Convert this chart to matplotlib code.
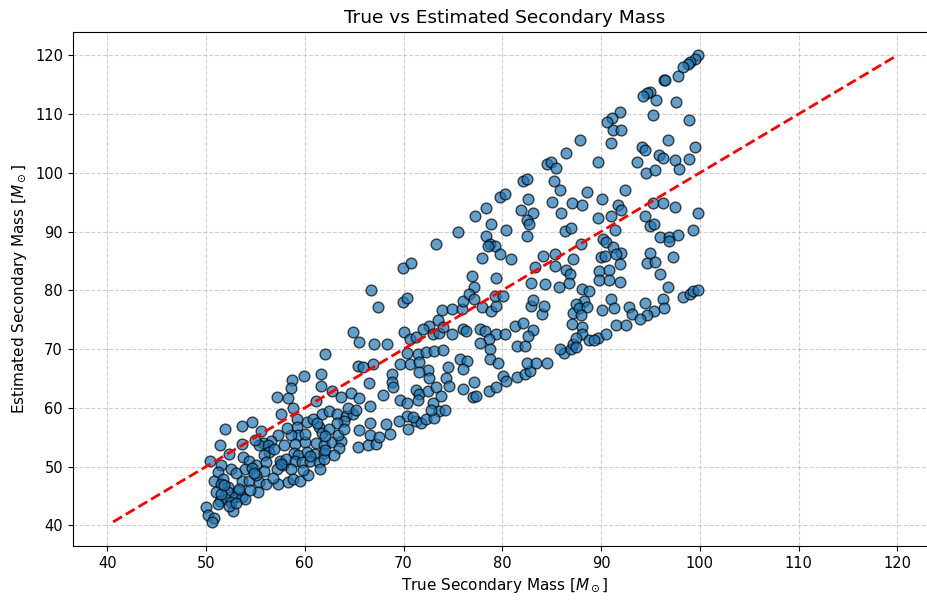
import numpy as np
import matplotlib
matplotlib.use("Agg")
import matplotlib.pyplot as plt

# Secondary masses (solar masses), grouped by true-mass band
true_low = [59.9, 61.6, 58.7, 58.6, 61.6, 57.2, 58.3, 61.1, 58.8, 57.6, 61.7, 51.9, 53.6, 54.7, 55.6,
            59.2, 59.2, 60.2, 60.8, 61.4, 61.7, 59.3, 58.6, 57.3, 56.6, 55.8, 55.4, 56.3, 51.4, 53.6,
            57.9, 59.0, 60.0, 61.1, 61.9, 52.3, 56.4, 58.9, 59.3, 60.2, 61.0, 61.9, 50.4, 51.5, 53.7,
            54.4, 55.1, 55.9, 56.1, 57.5, 57.8, 58.1, 59.0, 59.7, 60.5, 61.4, 61.9, 52.5, 53.9, 54.7,
            55.9, 57.2, 58.6, 61.5, 51.2, 50.8, 51.7, 53.6, 54.4, 55.4, 56.1, 57.3, 58.3, 58.8, 59.5,
            60.3, 52.2, 51.5, 55.1, 51.0, 52.2, 53.2, 55.3, 51.4, 52.0, 52.9, 53.6, 53.9, 51.2, 52.5,
            50.0, 52.7, 50.2, 50.8, 50.6,
            51.5, 52.3, 53.0, 51.8, 53.3, 54.5, 53.0, 54.9, 56.8, 57.6, 59.8, 60.5, 56.9, 55.0, 58.2,
            60.0, 61.2]
est_low = [65.5, 65.8, 64.8, 63.3, 63.8, 61.8, 61.6, 61.1, 60.0, 58.9, 59.0, 56.4, 56.9, 57.6, 56.0,
           58.1, 56.7, 57.6, 58.1, 56.7, 55.8, 55.3, 55.4, 55.3, 54.4, 54.1, 53.6, 53.7, 53.6, 53.9,
           53.6, 53.9, 54.2, 54.1, 53.6, 52.2, 52.5, 52.3, 51.9, 52.5, 52.2, 52.4, 50.9, 50.2, 51.6,
           50.9, 50.2, 51.9, 50.8, 51.0, 50.2, 51.3, 50.9, 50.8, 50.9, 50.8, 51.3, 49.6, 49.6, 49.7,
           49.3, 49.6, 49.6, 49.6, 49.1, 47.6, 47.9, 47.6, 47.5, 47.4, 47.1, 47.1, 47.4, 47.9, 47.6,
           48.5, 46.5, 47.1, 48.5, 45.7, 45.7, 45.8, 45.7, 44.2, 44.5, 44.8, 44.8, 44.5, 43.7, 44.0,
           43.1, 42.5, 41.7, 41.2, 40.6,
           45.3, 43.3, 43.8, 46.9, 46.2, 46.0, 49.0, 49.0, 48.0, 50.5, 49.5, 51.8, 53.0, 54.6, 56.5,
           55.6, 57.4]

true_mid = [73.3, 69.9, 70.8, 66.7, 69.9, 70.3, 67.4, 64.9, 65.5, 67.0, 68.3, 62.0, 70.0, 73.9, 73.5,
            72.6, 72.0, 73.0, 73.6, 74.0, 70.6, 71.3, 70.3, 71.5, 72.3, 73.1, 74.0,
            65.4, 65.9, 66.9, 69.6, 70.6, 71.6, 72.5, 74.5, 68.8, 68.8, 68.9, 66.5, 62.8, 63.7, 64.7,
            65.5, 66.6, 67.9, 69.6, 70.3, 71.3, 71.6, 71.5, 72.5, 73.3, 74.3, 72.6, 71.6, 73.0, 73.6,
            74.2, 70.3, 71.3, 71.8, 72.3, 73.1, 62.5, 63.3, 64.2, 64.9, 64.0, 63.3, 62.5, 64.4, 65.2,
            66.6, 68.2, 68.6, 66.6, 70.4, 62.8, 63.7, 63.5, 62.0, 63.0, 65.4, 66.4, 67.2,
            62.0, 63.4, 64.0, 65.5, 67.5, 69.5, 71.0, 72.8, 73.8, 74.6]
est_mid = [87.9, 83.8, 84.6, 80.1, 78.0, 78.7, 77.2, 72.9, 71.2, 70.9, 70.8, 69.2, 72.9, 76.7, 75.0,
           74.0, 73.4, 72.6, 72.8, 73.7, 71.7, 72.0, 69.4, 69.2, 69.5, 69.6, 69.9,
           67.2, 66.9, 67.5, 67.5, 67.5, 67.8, 66.4, 66.9, 65.8, 64.4, 63.6, 64.3, 62.9, 61.9, 62.5,
           61.7, 60.3, 62.2, 61.4, 60.8, 63.1, 62.3, 61.4, 62.9, 63.6, 65.0, 65.0, 66.1, 60.8, 59.4,
           59.6, 58.6, 57.8, 57.5, 58.1, 58.3, 59.4, 58.9, 58.6, 58.9, 57.8, 57.5, 56.4, 60.0, 59.7,
           57.5, 57.2, 55.6, 55.3, 56.4, 54.2, 54.4, 53.1, 52.8, 51.9, 53.3, 53.6, 53.9,
           55.2, 55.3, 56.4, 56.2, 55.0, 57.8, 58.5, 59.7, 62.1, 63.8]

true_upper = [86.4, 84.5, 84.9, 85.4, 82.1, 82.5, 85.2, 85.8, 79.8, 80.3, 82.6, 85.0, 87.0, 78.3, 77.2,
              81.9, 83.1, 85.9, 78.9, 82.5, 82.7, 75.5, 80.4, 86.3, 86.9, 78.3, 82.5, 78.7, 79.3, 78.5,
              79.8, 77.9, 80.9, 84.1, 85.3, 85.3, 87.2, 76.9, 79.4, 83.3, 86.4, 86.8,
              77.1, 82.9, 84.3, 85.7, 86.7, 74.9, 75.9, 76.0, 76.6, 77.1, 77.9, 78.9, 79.4, 79.3, 80.1,
              74.9, 76.0, 76.3, 77.7, 78.2, 79.4, 80.3, 78.6, 77.7, 78.7, 81.5, 82.3, 81.3, 82.1, 83.1,
              82.9, 84.0, 84.2, 83.1, 75.7, 76.4, 76.0, 78.7, 79.6, 77.1, 76.0, 77.0, 77.3, 78.6, 79.4,
              80.1, 80.4, 81.5, 82.3, 82.8, 82.5, 83.4, 84.5, 87.2, 87.0, 86.2, 86.9, 87.2, 85.8, 82.6]
est_upper = [103.4, 101.5, 101.9, 100.8, 98.6, 98.9, 98.6, 97.1, 95.9, 96.4, 95.5, 95.1, 94.9, 94.0, 92.7,
             93.7, 93.2, 93.2, 91.3, 91.9, 91.3, 89.9, 90.2, 90.1, 90.6, 89.3, 89.3, 87.9, 87.5, 87.5,
             86.2, 85.5, 85.4, 85.9, 86.1, 84.2, 85.4, 82.4, 82.1, 84.0, 83.4, 82.8,
             80.5, 81.3, 81.1, 80.5, 81.3, 76.8, 76.8, 78.2, 79.3, 78.5, 77.1, 76.5, 77.3, 79.0, 79.0,
             72.5, 73.4, 73.1, 73.4, 73.1, 72.5, 72.5, 71.7, 71.1, 70.0, 70.6, 70.6, 74.0, 74.5, 73.2,
             77.3, 75.9, 77.3, 78.3, 68.3, 68.0, 66.6, 68.3, 67.7, 64.4, 63.2, 61.8, 62.1, 62.9, 63.5,
             65.5, 64.6, 65.2, 65.8, 66.3, 67.7, 67.7, 67.7, 76.2, 74.2, 69.4, 70.0, 70.8, 70.0, 72.3]

true_high = [99.8, 99.5, 99.0, 98.8, 98.3, 97.8, 96.4, 96.5, 94.9, 94.6, 94.2, 95.6, 97.6, 91.9, 91.1,
             90.6, 91.2, 92.0, 95.3, 98.9, 87.9, 91.0, 94.1, 94.4, 96.8, 99.5, 95.9, 96.3, 97.5, 98.9,
             89.7, 93.6, 94.5, 95.5, 97.9, 88.6, 92.4, 90.1,
             88.1, 91.7, 92.0, 95.3, 96.3, 97.5, 99.8, 89.7, 91.0, 94.4, 94.9, 95.4, 91.4, 96.0, 96.9,
             97.8, 96.9, 99.3, 94.9, 94.6, 95.5, 97.3, 90.2, 90.5, 91.2, 92.0, 91.5, 90.0, 90.4, 91.9,
             88.0, 89.8, 90.8, 89.8, 90.8, 91.9, 96.0, 96.8, 88.1, 88.8, 88.3, 87.5, 87.8, 88.6, 90.1,
             91.0, 91.3, 92.8, 93.1, 94.4, 95.4, 96.3, 96.4, 94.6, 93.9, 91.5, 92.5, 98.3, 99.0, 99.3,
             99.8, 88.0, 88.1, 88.1, 87.5, 88.8, 89.7, 90.5, 89.3, 87.5]
est_high = [120.0, 119.4, 118.8, 118.5, 118.0, 116.4, 115.7, 115.8, 113.8, 113.5, 113.0, 112.3, 112.0, 110.3, 109.3,
            108.7, 107.3, 107.3, 109.9, 108.9, 105.5, 105.1, 104.3, 103.8, 105.5, 104.4, 103.0, 102.5, 102.1, 102.3,
            101.9, 101.9, 99.9, 100.4, 100.6, 96.7, 97.0, 95.5,
            94.5, 94.5, 93.6, 94.9, 94.9, 94.1, 93.2, 92.3, 92.7, 92.7, 91.0, 91.3, 90.2, 89.1, 89.1,
            89.4, 88.4, 90.2, 86.4, 84.7, 84.9, 85.6, 88.7, 88.3, 87.3, 86.3, 86.1, 85.6, 85.9, 84.4,
            87.8, 83.3, 83.4, 81.7, 81.7, 81.4, 82.7, 80.5, 80.2, 79.9, 78.2, 77.6, 77.0, 77.2, 76.7,
            78.6, 77.0, 77.2, 75.9, 77.9, 76.5, 78.5, 77.0, 75.8, 75.2, 74.1, 74.1, 78.8, 79.3, 79.8,
            80.0, 75.8, 73.8, 72.6, 71.9, 71.6, 71.9, 72.5, 71.5, 70.3]

true_mass = np.array(true_low + true_mid + true_upper + true_high)
est_mass = np.array(est_low + est_mid + est_upper + est_high)

fig = plt.figure(figsize=(9.28, 6.01), dpi=100)
# the plotting area runs past the right edge of the canvas
ax = fig.add_axes([0.0783, 0.0915, 0.9314, 0.8558])

ax.scatter(true_mass, est_mass, s=60, color="#1f77b4", edgecolors="black",
           linewidths=1.0, alpha=0.7, zorder=3)

lo = min(true_mass.min(), est_mass.min())
hi = max(true_mass.max(), est_mass.max())
ax.plot([lo, hi], [lo, hi], "r--", linewidth=2, zorder=4)

ax.set_xlim(36.5, 124.0)
ax.set_ylim(36.5, 124.0)
ax.grid(True, linestyle="--", alpha=0.6)
ax.spines["right"].set_visible(False)
ax.set_xticks(np.arange(40, 121, 10))
ax.set_yticks(np.arange(40, 121, 10))
ax.tick_params(labelsize=10.5)
ax.set_xlabel(r"True Secondary Mass [$M_\odot$]", fontsize=11)
ax.set_ylabel(r"Estimated Secondary Mass [$M_\odot$]", fontsize=11)
ax.set_title("True vs Estimated Secondary Mass", fontsize=13.3)

fig.savefig("out.png", dpi=100, facecolor="white")
